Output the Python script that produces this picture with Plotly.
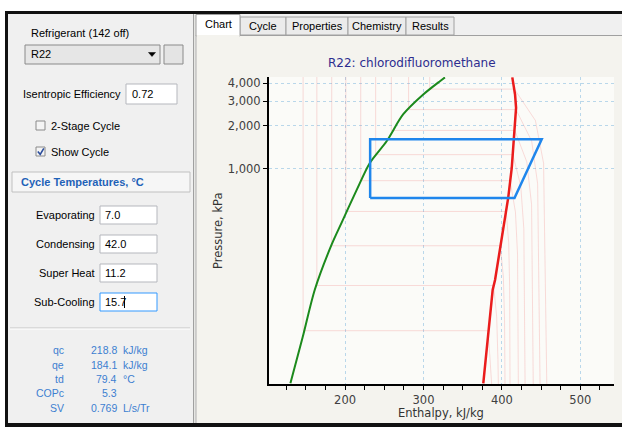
import plotly.graph_objects as go
import math

# ---------------- data ----------------
# saturated liquid line (pressure kPa, enthalpy kJ/kg)
liq_p = [30.7, 65, 140, 290, 415, 711, 1097, 1560, 2410, 3335, 4140, 4400]
liq_h = [130.3, 146.0, 161.4, 182.7, 195.5, 215.0, 231.6, 253.0, 274.0, 299.7, 321.0, 327.4]

# saturated vapour line
vap_p = [30.6, 140, 164, 436, 630, 1011, 1603, 2685, 3335, 3930, 4400]
vap_h = [376.3, 388.3, 391.3, 404.0, 408.2, 412.6, 415.5, 418.1, 416.8, 414.6, 413.3]

# refrigeration cycle (evap 7.0 C, cond 42.0 C)
cycle_h = [232.0, 416.1, 450.8, 232.0, 232.0]
cycle_p = [621, 621, 1610, 1610, 621]

# isotherms (every 16 C)
iso_T = [-48, -32, -16, 0, 16, 32, 48, 64, 80]
iso_psat = [72, 150, 286, 499, 823, 1256, 1860, 2610, 3640]
iso_hf = [146.5, 164, 183, 201, 220, 239, 259, 281, 308]
iso_hg = [382.5, 389.5, 398, 405.5, 410.5, 414, 416.5, 418, 416]
iso_sh_p = [[43, 30], [90, 45, 30], [172, 86, 30], [300, 150, 30], [494, 247, 30],
            [754, 377, 30], [1116, 558, 30], [1566, 783, 30], [2184, 1092, 30]]
iso_sh_h = [[385.5, 387], [393.4, 395, 395.5], [401.9, 403.4, 404], [408.7, 409.9, 410.4],
            [417.3, 420, 421], [424.1, 428, 429.6], [431.8, 437.9, 440], [438, 445.6, 448.7],
            [442.8, 453.2, 457.3]]

x_range = [103, 543]
y_range = [30.3, 4430]
y_ticks = [1000, 2000, 3000, 4000]
y_ticktext = ["1,000", "2,000", "3,000", "4,000"]

# UI texts
tabs = ["Chart", "Cycle", "Properties", "Chemistry", "Results"]
inputs_lbl = ["Evaporating", "Condensing", "Super Heat", "Sub-Cooling"]
inputs_val = ["7.0", "42.0", "11.2", "15.7"]
res_lbl = ["qc", "qe", "td", "COPc", "SV"]
res_val = ["218.8", "184.1", "79.4", "5.3", "0.769"]
res_unit = ["kJ/kg", "kJ/kg", "°C", "", "L/s/Tr"]

# ---------------- layout geometry ----------------
W, H = 622, 427
L, R, T, B = 269, 8, 77, 43
PW, PH = W - L - R, H - T - B


def px(x):
    return (x - L) / PW


def py(y):
    return (H - B - y) / PH


shapes = []
annots = []


def rect(x0, y0, x1, y1, fill, line=None, lw=1, layer="below"):
    shapes.append(dict(type="rect", xref="paper", yref="paper",
                       x0=px(x0), x1=px(x1), y0=py(y0), y1=py(y1),
                       fillcolor=fill, layer=layer,
                       line=dict(color=line if line else fill, width=lw if line else 0)))


def hline(x0, x1, y, color, lw=1):
    shapes.append(dict(type="line", xref="paper", yref="paper",
                       x0=px(x0), x1=px(x1), y0=py(y), y1=py(y),
                       line=dict(color=color, width=lw), layer="below"))


def vline(x, y0, y1, color, lw=1, layer="below"):
    shapes.append(dict(type="line", xref="paper", yref="paper",
                       x0=px(x), x1=px(x), y0=py(y0), y1=py(y1),
                       line=dict(color=color, width=lw), layer=layer))


def path(pts, color, fill=None, lw=1.5, close=False):
    d = "M " + " L ".join(f"{px(a):.5f},{py(b):.5f}" for a, b in pts)
    if close:
        d += " Z"
    shapes.append(dict(type="path", xref="paper", yref="paper", path=d,
                       line=dict(color=color, width=lw),
                       fillcolor=fill if fill else "rgba(0,0,0,0)", layer="above"))


def txt(x, y, s, size=11, color="black", anchor="left", family="Liberation Sans",
        bold=False, angle=0):
    annots.append(dict(x=px(x), y=py(y), xref="paper", yref="paper",
                       text=f"<b>{s}</b>" if bold else s, showarrow=False,
                       xanchor=anchor, yanchor="middle", borderpad=0, textangle=angle,
                       font=dict(size=size, color=color, family=family)))


# frame
rect(0, 0, W, 11, "white")
rect(0, 0, 5, H, "white")
rect(5, 11, W, 14, "#111111")
rect(5, 11, 8, 427, "#111111")
rect(5, 423, W, 427, "#111111")

# left panel
rect(8, 14, 193, 423, "#f0f0f0")
vline(193.5, 14, 423, "#a0a0a0")
vline(195, 14, 423, "#d8d8d8")

txt(30, 33, "Refrigerant (142 off)")
rect(25, 45, 160, 64, "#e6e6e6", "#8a8a8a")
txt(30, 54.5, "R22")
path([(148.5, 52.5), (155.5, 52.5), (152, 56.5)], "black", fill="black", lw=0.5, close=True)
rect(164, 45, 183, 64, "#e4e4e4", "#8a8a8a")

txt(122, 94, "Isentropic Efficiency", anchor="right")
rect(126, 84, 177, 104, "white", "#b5b7bd")
txt(131, 94, "0.72")

rect(36, 121, 45, 130, "#f4f4f4", "#8a8a8a")
txt(50, 126, "2-Stage Cycle")
rect(36, 147, 45, 156, "#f4f4f4", "#8a8a8a")
path([(37.8, 151.5), (40.2, 154.3), (43.8, 148.3)], "#2b4d9c", lw=1.6)
txt(50, 151.5, "Show Cycle")

rect(12, 172, 190, 192, "#f6f6f6", "#c0c0c0")
txt(20, 182, "Cycle Temperatures, °C", size=11, color="#1f62b8", bold=True)

box_y = [215, 244, 273, 302]
for lbl, val, yy in zip(inputs_lbl, inputs_val, box_y):
    focused = lbl == "Sub-Cooling"
    txt(96, yy, lbl, anchor="right")
    rect(100, yy - 9, 157, yy + 9, "white", "#3399ff" if focused else "#b5b7bd")
    txt(104, yy, val)
vline(124.5, 296, 308, "black", layer="above")

hline(10, 190, 328, "#c4c4c4")
hline(10, 190, 329, "#ffffff")

res_y = [350, 365, 379, 393, 408]
for lbl, val, unit, yy in zip(res_lbl, res_val, res_unit, res_y):
    txt(65, yy, lbl, size=10.5, color="#3d7fd0", anchor="right")
    txt(118, yy, val, size=10.5, color="#3d7fd0", anchor="right")
    if unit:
        txt(122, yy, unit, size=10.5, color="#3d7fd0")

# tabs
rect(196, 14, W, 35, "#f0f0f0")
tab_x = [(196, 240), (240, 286), (286, 348), (348, 406), (406, 454)]
for name, (a, b) in zip(tabs, tab_x):
    if name == "Chart":
        continue
    rect(a, 17, b, 35, "#ebebeb", "#a0a0a0")
    txt((a + b) / 2, 26.5, name, anchor="center")
hline(240, W, 35.5, "#a0a0a0")
rect(196, 14.5, 240, 36, "#ffffff", "#a0a0a0")
rect(196.5, 35, 239.5, 37, "#f4f3ee")
txt(218, 24.5, "Chart", anchor="center")
vline(196, 35, 423, "#b0b0b0")

# chart texts
txt(412, 63, "R22: chlorodifluoromethane", size=12, color="#2d2d8f",
    family="DejaVu Sans", anchor="center")
txt(441, 413, "Enthalpy, kJ/kg", size=11.5, color="#333333",
    family="DejaVu Sans", anchor="center")
txt(218, 231, "Pressure, kPa", size=11.5, color="#333333",
    family="DejaVu Sans", anchor="center", angle=-90)

# ---------------- traces ----------------
fig = go.Figure()
pink = "rgba(238,120,120,0.25)"
for i in range(len(iso_T)):
    xs = [iso_hf[i], iso_hf[i], iso_hg[i]] + iso_sh_h[i]
    ys = [y_range[1], iso_psat[i], iso_psat[i]] + iso_sh_p[i]
    fig.add_trace(go.Scatter(x=xs, y=ys, mode="lines", line=dict(color=pink, width=1),
                             hoverinfo="skip", showlegend=False))

fig.add_trace(go.Scatter(x=liq_h, y=liq_p, mode="lines",
                         line=dict(color="#1c8a1c", width=2, shape="spline", smoothing=0.8),
                         showlegend=False))
fig.add_trace(go.Scatter(x=vap_h, y=vap_p, mode="lines",
                         line=dict(color="#ea1c1c", width=2.5), showlegend=False))
fig.add_trace(go.Scatter(x=cycle_h, y=cycle_p, mode="lines",
                         line=dict(color="#1f86ec", width=2.5), showlegend=False))

grid = "#b9d7ea"
fig.update_layout(
    width=W, height=H,
    margin=dict(l=L, r=R, t=T, b=B, pad=0),
    paper_bgcolor="#f4f3ee",
    plot_bgcolor="#fbfbf8",
    shapes=shapes,
    annotations=annots,
    xaxis=dict(range=x_range, dtick=100, tick0=0, showline=True, linecolor="black",
               linewidth=2, ticks="outside", ticklen=4, tickcolor="black",
               showgrid=True, gridcolor=grid, griddash="3px,3px", gridwidth=1,
               zeroline=False,
               minor=dict(dtick=25, tick0=0, ticks="outside", ticklen=4,
                          tickcolor="black", showgrid=False),
               tickfont=dict(family="DejaVu Sans", size=11.5, color="#404040")),
    yaxis=dict(type="log", range=[math.log10(y_range[0]), math.log10(y_range[1])],
               tickvals=y_ticks, ticktext=y_ticktext, showline=True, linecolor="black",
               linewidth=2, ticks="outside", ticklen=4, tickcolor="black",
               showgrid=True, gridcolor=grid, griddash="3px,3px", gridwidth=1,
               zeroline=False,
               tickfont=dict(family="DejaVu Sans", size=11.5, color="#404040")),
)

fig.write_html("out.html", config={"displayModeBar": False},
               post_script="document.body.style.margin='0';document.body.style.overflow='hidden';")
